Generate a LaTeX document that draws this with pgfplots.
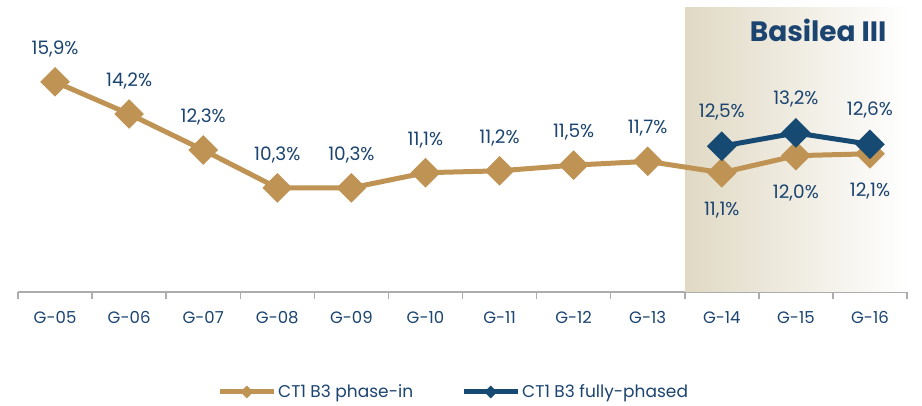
\documentclass[border=0pt]{standalone}
\usepackage{pgfplots}
\pgfplotsset{compat=1.18}
\usepackage{fontspec}
\setmainfont{Poppins}

\definecolor{gold}{HTML}{BF9353}
\definecolor{navy}{HTML}{174A72}
\definecolor{txtblue}{HTML}{1B4470}
\definecolor{shade}{HTML}{E0D9C4}

\begin{document}
\begin{tikzpicture}
\begin{axis}[
    scale only axis,
    width=889pt, height=284pt,
    xmin=-0.5, xmax=11.5,
    ymin=4.8, ymax=19.8,
    axis x line*=bottom,
    axis y line=none,
    axis line style={draw=gray!65, line width=1.5pt},
    xtick={0,...,11},
    xticklabels={G-05,G-06,G-07,G-08,G-09,G-10,G-11,G-12,G-13,G-14,G-15,G-16},
    major tick length=0pt,
    minor xtick={-0.5,0.5,...,11.5},
    minor tick length=7pt,
    tick align=outside,
    minor tick style={draw=gray!65, line width=1.5pt},
    xticklabel style={font=\fontsize{16.5}{20}\selectfont, text=txtblue, anchor=base, yshift=-32pt},
    /pgf/number format/assume math mode=true,
    clip=false,
    legend style={at={(0.49,-0.352)}, anchor=center, draw=none,
      font=\fontsize{17}{20}\selectfont, text=txtblue, legend columns=2},
    /tikz/every even column/.append style={column sep=46pt},
    % small diamond in the middle of the legend line
    legend image code/.code={
      \draw[#1, mark=none] (0pt,0pt) -- (54pt,0pt);
      \filldraw[#1, mark=none, line width=0.5pt]
        (27pt,-6pt) -- (33pt,0pt) -- (27pt,6pt) -- (21pt,0pt) -- cycle;},
    nodes near coords={\pgfmathprintnumber[fixed,fixed zerofill,precision=1,use comma]{\pgfplotspointmeta}\%},
    every node near coord/.append style={font=\fontsize{18.5}{22}\selectfont, text=txtblue, anchor=center},
]

% shaded Basel III zone
\fill[left color=shade, right color=white] (axis cs:8.5,4.8) rectangle (axis cs:11.5,19.8);
\node[font=\bfseries\fontsize{28}{32}\selectfont, text=txtblue] at (axis cs:10.3,18.6) {Basilea III};

\addplot[gold, line width=5pt, mark=square*, mark size=8pt, mark options={rotate=45, solid},
    point meta=y,
    coordinate style/.condition={x<8.5}{yshift=33pt},
    coordinate style/.condition={x>8.5}{yshift=-37pt}]
  coordinates {(0,15.9) (1,14.2) (2,12.3) (3,10.3) (4,10.3) (5,11.1)
               (6,11.2) (7,11.5) (8,11.7) (9,11.1) (10,12.0) (11,12.1)};
\addlegendentry{CT1 B3 phase-in}

\addplot[navy, line width=5pt, mark=square*, mark size=8pt, mark options={rotate=45, solid},
    point meta=y,
    every node near coord/.append style={yshift=34pt}]
  coordinates {(9,12.5) (10,13.2) (11,12.6)};
\addlegendentry{CT1 B3 fully-phased}

\end{axis}
\path (-18pt,-114pt) rectangle (904pt,292pt);
\end{tikzpicture}
\end{document}
